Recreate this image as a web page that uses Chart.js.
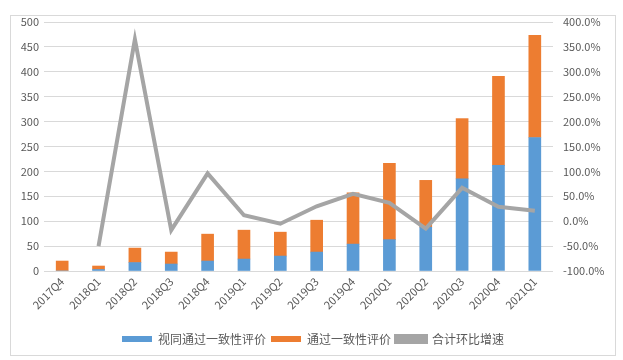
<!DOCTYPE html>
<html lang="zh">
<head>
    <meta charset="UTF-8">
    <title>一致性评价季度数量</title>
    <style>
        body {
            margin: 0;
            background-color: #ffffff;
        }
        .chart-box {
            position: absolute;
            left: 10px;
            top: 15px;
            width: 606px;
            height: 341px;
            box-sizing: border-box;
            border: 1px solid #d9d9d9;
            background-color: #ffffff;
        }
    </style>
    <script src="https://cdn.jsdelivr.net/npm/chart.js"></script>
</head>
<body>
    <div class="chart-box">
        <canvas id="grafica"></canvas>
    </div>

    <script>
        // datos
        const quarters = ['2017Q4', '2018Q1', '2018Q2', '2018Q3', '2018Q4', '2019Q1', '2019Q2',
            '2019Q3', '2019Q4', '2020Q1', '2020Q2', '2020Q3', '2020Q4', '2021Q1'];
        const viewedPassed = [0, 3, 17, 14, 20, 24, 30, 38, 54, 63, 88, 185, 212, 268];
        const passed = [20, 7, 29, 24, 54, 58, 48, 64, 103, 153, 94, 121, 179, 205];
        const qoqGrowth = [null, -50, 365, -18, 96, 12, -5, 30, 55, 37, -15, 67, 29, 21];
        const leftTicks = [0, 50, 100, 150, 200, 250, 300, 350, 400, 450, 500];
        const rightTicks = [-100, -50, 0, 50, 100, 150, 200, 250, 300, 350, 400];

        const tickColor = '#595959';
        const gridColor = '#d9d9d9';
        const fontFamily = '"Noto Sans CJK SC", "Noto Sans", sans-serif';

        const ctx = document.getElementById('grafica').getContext('2d');

        new Chart(ctx, {
            type: 'bar',
            data: {
                labels: quarters,
                datasets: [{
                    label: '视同通过一致性评价',
                    data: viewedPassed,
                    backgroundColor: '#5b9bd5',
                    barThickness: 12,
                    stack: 's1',
                    order: 1
                }, {
                    label: '通过一致性评价',
                    data: passed,
                    backgroundColor: '#ed7d31',
                    barThickness: 12,
                    stack: 's1',
                    order: 1
                }, {
                    type: 'line',
                    label: '合计环比增速',
                    data: qoqGrowth,
                    yAxisID: 'y1',
                    borderColor: '#a5a5a5',
                    backgroundColor: '#a5a5a5',
                    borderWidth: 4,
                    pointRadius: 0,
                    pointHoverRadius: 0,
                    tension: 0,
                    borderJoinStyle: 'miter',
                    order: 0
                }]
            },
            options: {
                responsive: true,
                maintainAspectRatio: false,
                animation: false,
                layout: {
                    autoPadding: false,
                    padding: 0
                },
                plugins: {
                    tooltip: { enabled: false },
                    legend: {
                        position: 'bottom',
                        labels: {
                            boxWidth: 30,
                            boxHeight: 6,
                            padding: 5,
                            color: tickColor,
                            font: { family: fontFamily, size: 12 },
                            sort: (a, b) => a.datasetIndex - b.datasetIndex
                        }
                    }
                },
                scales: {
                    x: {
                        stacked: true,
                        grid: { display: false, drawTicks: false },
                        border: { display: false },
                        ticks: {
                            color: tickColor,
                            font: { family: fontFamily, size: 11 },
                            minRotation: 45,
                            maxRotation: 45,
                            padding: 4,
                            autoSkip: false
                        },
                        afterFit: (scale) => { scale.height = 57; }
                    },
                    y: {
                        stacked: true,
                        min: 0,
                        max: 500,
                        afterBuildTicks: (scale) => {
                            scale.ticks = leftTicks.map(v => ({ value: v }));
                        },
                        grid: { color: gridColor, drawTicks: false },
                        border: { display: false },
                        ticks: {
                            color: tickColor,
                            font: { family: fontFamily, size: 11 },
                            padding: 5
                        },
                        afterFit: (scale) => { scale.width = 33; scale.paddingTop = 6; scale.paddingBottom = 0; }
                    },
                    y1: {
                        position: 'right',
                        min: -100,
                        max: 400,
                        afterBuildTicks: (scale) => {
                            scale.ticks = rightTicks.map(v => ({ value: v }));
                        },
                        grid: { display: false, drawTicks: false },
                        border: { display: false },
                        ticks: {
                            color: tickColor,
                            font: { family: fontFamily, size: 11 },
                            padding: 10,
                            callback: (v) => v.toFixed(1) + '%'
                        },
                        afterFit: (scale) => { scale.width = 62; scale.paddingTop = 6; scale.paddingBottom = 0; }
                    }
                }
            }
        });
    </script>
</body>
</html>
